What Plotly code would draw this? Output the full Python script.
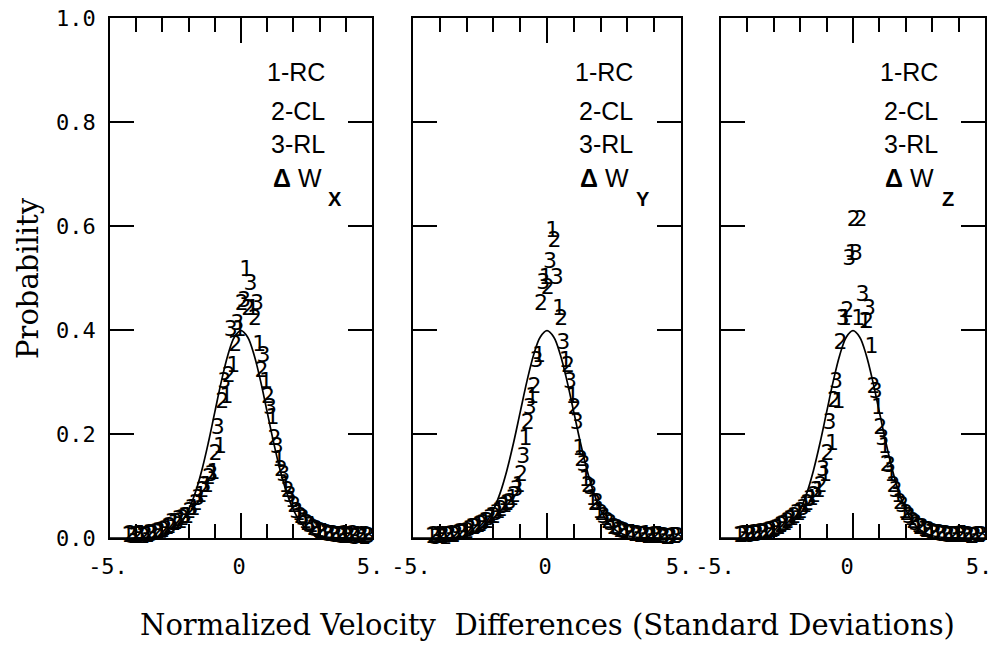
import plotly.graph_objects as go

# ---------------- data ----------------
panel_names = ["X", "Y", "Z"]
series_labels = ["1", "2", "3"]
legend_lines = ["1-RC", "2-CL", "3-RL"]

bins_rc = [-4.3, -4.05, -3.8, -3.55, -3.3, -3.05, -2.8, -2.55, -2.3, -2.05, -1.8, -1.55, -1.3,
           -1.05, -0.8, -0.55, -0.3, -0.05, 0.2, 0.45, 0.7, 0.95, 1.2, 1.45, 1.7, 1.95, 2.2,
           2.45, 2.7, 2.95, 3.2, 3.45, 3.7, 3.95, 4.2, 4.45, 4.7]
bins_cl = [-4.22, -3.97, -3.72, -3.47, -3.22, -2.97, -2.72, -2.47, -2.22, -1.97, -1.72, -1.47,
           -1.22, -0.97, -0.72, -0.47, -0.22, 0.03, 0.28, 0.53, 0.78, 1.03, 1.28, 1.53, 1.78,
           2.03, 2.28, 2.53, 2.78, 3.03, 3.28, 3.53, 3.78, 4.03, 4.28, 4.53, 4.78]
bins_rl = [-4.14, -3.89, -3.64, -3.39, -3.14, -2.89, -2.64, -2.39, -2.14, -1.89, -1.64, -1.39,
           -1.14, -0.89, -0.64, -0.39, -0.14, 0.11, 0.36, 0.61, 0.86, 1.11, 1.36, 1.61, 1.86,
           2.11, 2.36, 2.61, 2.86, 3.11, 3.36, 3.61, 3.86, 4.11, 4.36, 4.61, 4.86]

# Delta W_x
wx_rc = [0.002, 0.001, 0.004, 0.003, 0.006, 0.009, 0.018, 0.026, 0.03, 0.04, 0.055, 0.08, 0.10,
         0.125, 0.175, 0.27, 0.33, 0.40, 0.515, 0.44, 0.37, 0.30, 0.23, 0.15, 0.10, 0.07, 0.045,
         0.03, 0.022, 0.012, 0.008, 0.004, 0.002, 0.005, 0.001, 0.003, 0.0]
wx_cl = [0.004, 0.002, 0.001, 0.006, 0.008, 0.012, 0.02, 0.028, 0.035, 0.05, 0.065, 0.09, 0.115,
         0.16, 0.26, 0.31, 0.37, 0.45, 0.44, 0.42, 0.32, 0.27, 0.19, 0.13, 0.09, 0.06, 0.04,
         0.026, 0.017, 0.01, 0.006, 0.004, 0.002, 0.001, 0.004, 0.001, 0.002]
wx_rl = [0.001, 0.004, 0.002, 0.004, 0.01, 0.015, 0.028, 0.033, 0.04, 0.055, 0.075, 0.10, 0.12,
         0.21, 0.30, 0.40, 0.41, 0.455, 0.487, 0.45, 0.35, 0.25, 0.175, 0.12, 0.08, 0.05, 0.035,
         0.023, 0.015, 0.008, 0.005, 0.003, 0.001, 0.003, 0.0, 0.002, 0.001]

# Delta W_y
wy_rc = [0.001, 0.002, 0.0, 0.004, 0.006, 0.009, 0.018, 0.022, 0.03, 0.04, 0.05, 0.06, 0.075,
         0.10, 0.19, 0.27, 0.35, 0.50, 0.59, 0.44, 0.34, 0.27, 0.17, 0.11, 0.075, 0.05, 0.035,
         0.018, 0.012, 0.008, 0.006, 0.003, 0.004, 0.001, 0.002, 0.0, 0.001]
wy_cl = [0.002, 0.001, 0.003, 0.002, 0.008, 0.011, 0.018, 0.024, 0.03, 0.04, 0.052, 0.065, 0.08,
         0.12, 0.22, 0.29, 0.45, 0.48, 0.57, 0.42, 0.33, 0.25, 0.15, 0.10, 0.065, 0.045, 0.03,
         0.018, 0.012, 0.007, 0.005, 0.003, 0.001, 0.002, 0.001, 0.0, 0.001]
wy_rl = [0.0, 0.003, 0.002, 0.005, 0.007, 0.015, 0.019, 0.026, 0.035, 0.045, 0.058, 0.067,
         0.092, 0.155, 0.25, 0.34, 0.49, 0.53, 0.50, 0.375, 0.30, 0.22, 0.14, 0.095, 0.067,
         0.04, 0.026, 0.016, 0.011, 0.006, 0.004, 0.002, 0.001, 0.003, 0.001, 0.0, 0.001]

# Delta W_z
wz_rc = [0.002, 0.004, 0.004, 0.006, 0.008, 0.012, 0.018, 0.026, 0.035, 0.045, 0.06, 0.075, 0.09,
         0.12, 0.18, 0.26, 0.42, 0.545, 0.42, 0.415, 0.367, 0.25, 0.175, 0.12, 0.08, 0.05,
         0.035, 0.023, 0.015, 0.009, 0.006, 0.005, 0.003, 0.002, 0.004, 0.001, 0.002]
wz_cl = [0.003, 0.005, 0.006, 0.008, 0.01, 0.015, 0.022, 0.03, 0.04, 0.05, 0.065, 0.08, 0.10,
         0.16, 0.262, 0.375, 0.435, 0.61, 0.61, 0.415, 0.29, 0.21, 0.14, 0.10, 0.067, 0.045,
         0.03, 0.018, 0.012, 0.008, 0.006, 0.004, 0.003, 0.002, 0.003, 0.001, 0.002]
wz_rl = [0.004, 0.002, 0.005, 0.007, 0.012, 0.017, 0.024, 0.033, 0.046, 0.055, 0.072, 0.09,
         0.13, 0.22, 0.30, 0.42, 0.535, 0.545, 0.467, 0.44, 0.28, 0.19, 0.137, 0.09, 0.06,
         0.04, 0.026, 0.018, 0.012, 0.007, 0.005, 0.003, 0.002, 0.004, 0.002, 0.001, 0.002]

# reference (Gaussian) curve as drawn
curve_x = [-5.0, -4.5, -4.0, -3.5, -3.0, -2.75, -2.5, -2.25, -2.0, -1.75, -1.5, -1.25, -1.0,
           -0.75, -0.5, -0.25, 0.0, 0.25, 0.5, 0.75, 1.0, 1.25, 1.5, 1.75, 2.0, 2.25, 2.5,
           2.75, 3.0, 3.5, 4.0, 4.5, 5.0]
curve_y = [0.0, 0.0, 0.0001, 0.0009, 0.0044, 0.0091, 0.0175, 0.0317, 0.054, 0.0863, 0.1295,
           0.1826, 0.242, 0.3011, 0.3521, 0.3867, 0.3989, 0.3867, 0.3521, 0.3011, 0.242,
           0.1826, 0.1295, 0.0863, 0.054, 0.0317, 0.0175, 0.0091, 0.0044, 0.0009, 0.0001,
           0.0, 0.0]

x_tickvals = [-5, 0, 5]
x_ticktext = ["-5.", "0", "5."]
y_tickvals = [0.0, 0.2, 0.4, 0.6, 0.8, 1.0]
y_ticktext = ["0.0", "0.2", "0.4", "0.6", "0.8", "1.0"]

panel_data = [
    [wx_rc, wx_cl, wx_rl],
    [wy_rc, wy_cl, wy_rl],
    [wz_rc, wz_cl, wz_rl],
]
series_bins = [bins_rc, bins_cl, bins_rl]

# ---------------- figure ----------------
W, H = 996, 650


def px_x(px):
    return px / W


def px_y(py):
    return 1 - py / H


x_domains = [(px_x(110), px_x(372)), (px_x(413), px_x(681)), (px_x(721), px_x(985))]
y_domain = (px_y(538), px_y(18))

fig = go.Figure()
marker_font = dict(family="DejaVu Sans", size=22, color="black")

for p in range(3):
    xa = "x" if p == 0 else f"x{p+1}"
    ya = "y" if p == 0 else f"y{p+1}"
    fig.add_trace(go.Scatter(x=curve_x, y=curve_y, mode="lines",
                             line=dict(color="black", width=1.7, shape="spline"),
                             xaxis=xa, yaxis=ya, showlegend=False, hoverinfo="skip"))
    for s in range(3):
        vals = panel_data[p][s]
        fig.add_trace(go.Scatter(x=series_bins[s], y=vals, mode="text",
                                 text=[series_labels[s]] * len(vals),
                                 textposition="middle center", textfont=marker_font,
                                 cliponaxis=False, xaxis=xa, yaxis=ya, showlegend=False))

axis_common = dict(showline=True, linecolor="black", linewidth=1.7, mirror="allticks",
                   ticks="inside", tickcolor="black", tickwidth=1.7, showgrid=False,
                   zeroline=False, automargin=False, ticklabeloverflow="allow")
layout = dict(template="none", width=W, height=H, margin=dict(l=0, r=0, t=0, b=0),
              paper_bgcolor="white", plot_bgcolor="white", showlegend=False)

for p in range(3):
    xk = "xaxis" if p == 0 else f"xaxis{p+1}"
    yk = "yaxis" if p == 0 else f"yaxis{p+1}"
    anchor_y = "y" if p == 0 else f"y{p+1}"
    anchor_x = "x" if p == 0 else f"x{p+1}"
    layout[xk] = dict(axis_common, domain=list(x_domains[p]), anchor=anchor_y,
                      range=[-5, 5], tickmode="array", tickvals=x_tickvals,
                      ticktext=x_ticktext, ticklen=25,
                      tickfont=dict(family="DejaVu Sans Mono", size=22, color="black"),
                      ticklabelstandoff=8, ticklabelshift=(-6 if p == 2 else -2),
                      minor=dict(tickmode="linear", tick0=0, dtick=1, ticks="inside",
                                 ticklen=14, tickcolor="black", tickwidth=1.7,
                                 showgrid=False))
    layout[yk] = dict(axis_common, domain=list(y_domain), anchor=anchor_x,
                      range=[0, 1.0], tickmode="array", tickvals=y_tickvals,
                      ticktext=y_ticktext, ticklen=24,
                      showticklabels=(p == 0),
                      tickfont=dict(family="DejaVu Sans Mono", size=22, color="black"),
                      ticklabelstandoff=8)

fig.update_layout(**layout)

ann = []
leg_font = dict(family="Liberation Sans", size=25, color="black")
leg_y = [0.896, 0.821, 0.757]
for p in range(3):
    xr = "x" if p == 0 else f"x{p+1}"
    yr = "y" if p == 0 else f"y{p+1}"
    for i, t in enumerate(legend_lines):
        ann.append(dict(x=3.3, y=leg_y[i], xref=xr, yref=yr, text=t, showarrow=False,
                        xanchor="right", yanchor="middle", font=leg_font))
    ann.append(dict(x=3.15, y=0.692, xref=xr, yref=yr, text="<b>Δ</b> W", showarrow=False,
                    xanchor="right", yanchor="middle", font=leg_font))
    ann.append(dict(x=3.6, y=0.652, xref=xr, yref=yr, text="<b>" + panel_names[p] + "</b>",
                    showarrow=False, xanchor="center", yanchor="middle",
                    font=dict(family="Liberation Sans", size=20, color="black")))

ann.append(dict(x=px_x(28), y=px_y(278), xref="paper", yref="paper", text="Probability",
                textangle=-90, showarrow=False, xanchor="center", yanchor="middle",
                font=dict(family="DejaVu Serif", size=29, color="black")))
ann.append(dict(x=px_x(547), y=px_y(625), xref="paper", yref="paper",
                text="Normalized Velocity&nbsp;&nbsp;Differences (Standard Deviations)",
                showarrow=False, xanchor="center", yanchor="middle",
                font=dict(family="DejaVu Serif", size=29, color="black")))
fig.update_layout(annotations=ann)

fig.write_html("out.html", config={"displayModeBar": False},
               post_script="document.body.style.margin='0px';document.body.style.overflow='hidden';")
